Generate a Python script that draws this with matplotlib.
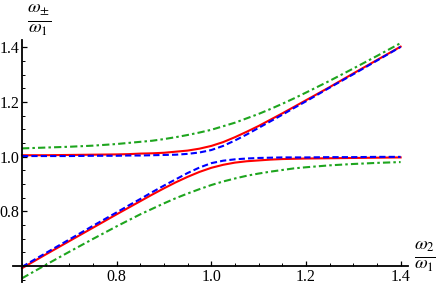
import matplotlib
matplotlib.use("Agg")
import matplotlib.pyplot as plt
from matplotlib.ticker import MultipleLocator, FixedLocator

plt.rcParams['font.family'] = 'serif'
plt.rcParams['font.serif'] = ['Liberation Serif', 'DejaVu Serif']
plt.rcParams['mathtext.fontset'] = 'stix'

# omega2/omega1 sample points
ratio = [0.6, 0.65, 0.7, 0.75, 0.8, 0.825, 0.85, 0.875, 0.9, 0.925, 0.95, 0.975, 1.0,
         1.025, 1.05, 1.075, 1.1, 1.125, 1.15, 1.175, 1.2, 1.25, 1.3, 1.35, 1.4]

# red, solid
red_up = [1.005, 1.005, 1.006, 1.007, 1.008, 1.009, 1.011, 1.012, 1.014, 1.018, 1.022, 1.029, 1.039,
          1.053, 1.071, 1.091, 1.112, 1.135, 1.158, 1.182, 1.206, 1.254, 1.304, 1.353, 1.402]
red_lo = [0.592, 0.642, 0.691, 0.740, 0.789, 0.813, 0.837, 0.861, 0.884, 0.906, 0.926, 0.944, 0.959,
          0.970, 0.978, 0.983, 0.986, 0.989, 0.991, 0.992, 0.993, 0.994, 0.995, 0.996, 0.997]

# blue, dashed
blue_up = [1.002, 1.002, 1.002, 1.003, 1.003, 1.004, 1.004, 1.005, 1.006, 1.007, 1.010, 1.015, 1.024,
           1.039, 1.059, 1.081, 1.105, 1.129, 1.153, 1.178, 1.202, 1.252, 1.301, 1.351, 1.401]
blue_lo = [0.597, 0.647, 0.697, 0.747, 0.796, 0.821, 0.845, 0.870, 0.894, 0.917, 0.940, 0.960, 0.976,
           0.985, 0.990, 0.993, 0.995, 0.996, 0.997, 0.997, 0.997, 0.998, 0.998, 0.999, 0.999]

# green, dot-dashed
green_up = [1.030, 1.033, 1.036, 1.040, 1.046, 1.050, 1.054, 1.058, 1.064, 1.071, 1.079, 1.088, 1.098,
            1.111, 1.124, 1.140, 1.156, 1.174, 1.193, 1.213, 1.234, 1.277, 1.322, 1.368, 1.415]
green_lo = [0.555, 0.604, 0.652, 0.699, 0.745, 0.767, 0.789, 0.809, 0.829, 0.848, 0.865, 0.881, 0.896,
            0.909, 0.920, 0.930, 0.938, 0.945, 0.951, 0.957, 0.961, 0.968, 0.973, 0.977, 0.980]

fig = plt.figure(figsize=(4.36, 2.85), dpi=100)
ax = fig.add_axes([13/436, 3/285, 395/436, 242/285])

ax.plot(ratio, green_up, color='#1ea51e', lw=1.5, dashes=(3.5, 1.5, 1.2, 1.5))
ax.plot(ratio, green_lo, color='#1ea51e', lw=1.5, dashes=(3.5, 1.5, 1.2, 1.5))
ax.plot(ratio, red_up, color='#ff0000', lw=1.5)
ax.plot(ratio, red_lo, color='#ff0000', lw=1.5)
ax.plot(ratio, blue_up, color='#0000ff', lw=1.5, dashes=(3, 1.5))
ax.plot(ratio, blue_lo, color='#0000ff', lw=1.5, dashes=(3, 1.5))

ax.set_xlim(0.581, 1.4156)
ax.set_ylim(0.5415, 1.4263)

for s in ['top', 'right']:
    ax.spines[s].set_visible(False)
ax.spines['left'].set_position(('data', 0.6))
ax.spines['bottom'].set_position(('data', 0.6))
ax.spines['left'].set_linewidth(1.3)
ax.spines['bottom'].set_linewidth(1.3)

ax.xaxis.set_major_locator(FixedLocator([0.8, 1.0, 1.2, 1.4]))
ax.yaxis.set_major_locator(FixedLocator([0.8, 1.0, 1.2, 1.4]))
ax.xaxis.set_minor_locator(MultipleLocator(0.05))
ax.yaxis.set_minor_locator(MultipleLocator(0.05))
ax.xaxis.set_major_formatter(lambda v, p: f"{v:.1f}")
ax.yaxis.set_major_formatter(lambda v, p: f"{v:.1f}")
ax.tick_params(which='major', direction='in', length=3.5, width=0.9, labelsize=11.5, pad=2)
ax.tick_params(which='minor', direction='in', length=2, width=0.7)
for lab in ax.get_xticklabels() + ax.get_yticklabels():
    lab.set_family(['Liberation Serif', 'DejaVu Serif'])

fig.text(39/436, 1 - 20/285, r'$\frac{\omega_{\pm}}{\omega_1}$', fontsize=19, ha='center', va='center')
fig.text(425/436, 1 - 257/285, r'$\frac{\omega_{2}}{\omega_1}$', fontsize=19, ha='center', va='center')

fig.savefig('out.png', dpi=100)
